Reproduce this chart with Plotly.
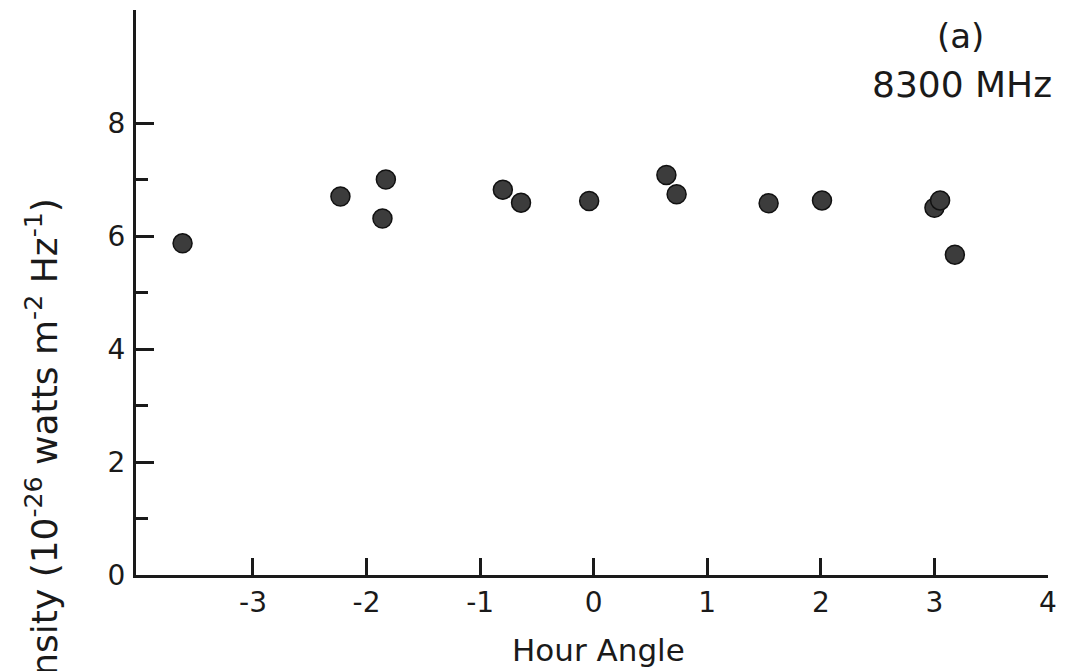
import plotly.graph_objects as go

# Data
hour_angle = [-3.62, -2.23, -1.83, -1.86, -0.80, -0.64, -0.04, 0.64, 0.73, 1.54, 2.01, 3.00, 3.05, 3.18]
intensity = [5.87, 6.70, 7.00, 6.31, 6.82, 6.59, 6.62, 7.08, 6.74, 6.58, 6.63, 6.50, 6.63, 5.67]

x_tick_vals = [-3, -2, -1, 0, 1, 2, 3, 4]
x_tick_labels = ["-3", "-2", "-1", "0", "1", "2", "3", "4"]
y_tick_vals = [0, 2, 4, 6, 8]
y_tick_labels = ["0", "2", "4", "6", "8"]
y_minor_vals = [1, 3, 5, 7]

INK = "#1a1a1a"
FONT = "DejaVu Sans"

# page body has an 8px margin: figure starts at (8, 8) in the window
OFF = 8
PAGE_W, PAGE_H = 1069, 671
W, H = PAGE_W - OFF, PAGE_H - OFF
# plot area in page pixels: left 136, right 1048, top 10, bottom 575
L, R, T, B = 136 - OFF, PAGE_W - 1048, 10 - OFF, PAGE_H - 575
PW, PH = W - L - R, H - T - B


def px_x(p):
    return (p - OFF - L) / PW


def px_y(p):
    return (H - B - (p - OFF)) / PH


fig = go.Figure()
fig.add_trace(go.Scatter(
    x=hour_angle, y=intensity, mode="markers",
    marker=dict(size=19, color="#3c3c3c", line=dict(color="#111111", width=1.5)),
    showlegend=False,
))

fig.update_layout(
    width=W, height=H,
    margin=dict(l=L, r=R, t=T, b=B),
    paper_bgcolor="white", plot_bgcolor="white",
    font=dict(family=FONT, color=INK),
    xaxis=dict(
        range=[-4.03, 4.0], showgrid=False, zeroline=False,
        showline=True, linecolor=INK, linewidth=3,
        ticks="inside", ticklen=17, tickwidth=2.5, tickcolor=INK,
        tickvals=x_tick_vals, ticktext=x_tick_labels,
        tickfont=dict(size=28, family=FONT, color=INK),
        ticklabelstandoff=0,
    ),
    yaxis=dict(
        range=[0, 10], showgrid=False, zeroline=False,
        showline=True, linecolor=INK, linewidth=3,
        ticks="inside", ticklen=18, tickwidth=2.5, tickcolor=INK,
        tickvals=y_tick_vals, ticktext=y_tick_labels,
        tickfont=dict(size=28, family=FONT, color=INK),
        ticklabelstandoff=2,
        minor=dict(tickvals=y_minor_vals, ticks="inside", ticklen=12,
                   tickwidth=2.5, tickcolor=INK, showgrid=False),
    ),
    annotations=[
        dict(text="Hour Angle", xref="paper", yref="paper",
             x=px_x(598), y=px_y(650), xanchor="center", yanchor="middle",
             showarrow=False, font=dict(size=31, family=FONT, color=INK)),
        dict(text="Intensity (10<sup>-26</sup> watts m<sup>-2</sup> Hz<sup>-1</sup>)",
             xref="paper", yref="paper", textangle=-90,
             x=px_x(41), y=px_y(197), xanchor="center", yanchor="top",
             showarrow=False, font=dict(size=36, family=FONT, color=INK)),
        dict(text="(a)", xref="paper", yref="paper",
             x=px_x(960), y=px_y(36), xanchor="center", yanchor="middle",
             showarrow=False, font=dict(size=34, family=FONT, color=INK)),
        dict(text="8300 MHz", xref="paper", yref="paper",
             x=px_x(962), y=px_y(84), xanchor="center", yanchor="middle",
             showarrow=False, font=dict(size=36, family=FONT, color=INK)),
    ],
)

fig.write_html("out.html")
